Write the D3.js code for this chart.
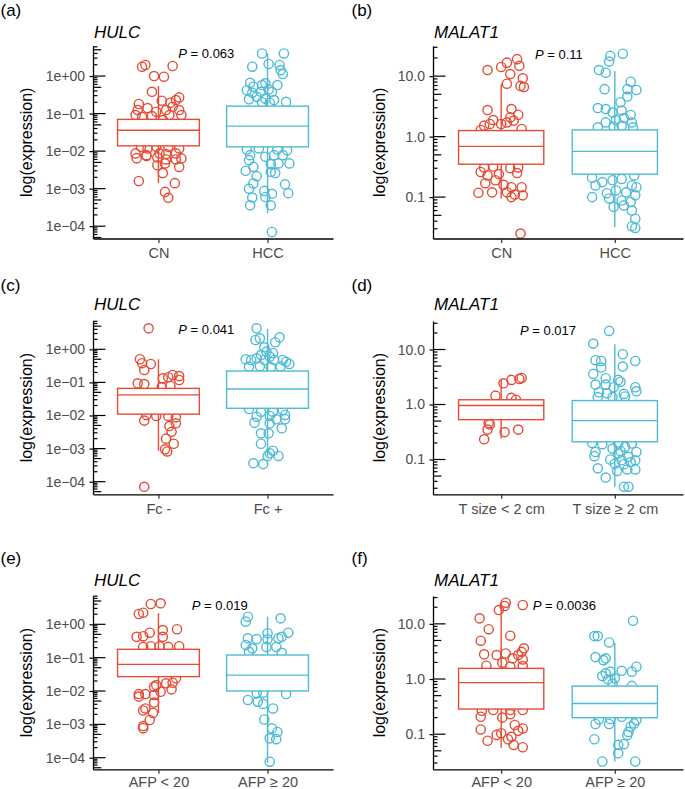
<!DOCTYPE html>
<html><head><meta charset="utf-8">
<script src="https://cdn.jsdelivr.net/npm/d3@7"></script>
<style>body{margin:0;background:#fff}svg{display:block;font-family:"Liberation Sans",Arial,sans-serif}</style>
</head><body><svg id="c" width="685" height="789"></svg>
<script>
// ---------------- DATA ----------------
const panelLetters = ["(a)","(b)","(c)","(d)","(e)","(f)"];
const genes = ["HULC","MALAT1","HULC","MALAT1","HULC","MALAT1"];
const categories = [["CN","HCC"],["CN","HCC"],["Fc -","Fc +"],["T size < 2 cm","T size ≥ 2 cm"],["AFP < 20","AFP ≥ 20"],["AFP < 20","AFP ≥ 20"]];
const pValues = ["0.063","0.11","0.041","0.017","0.019","0.0036"];
const hulcTicks = [1,0.1,0.01,0.001,0.0001];
const hulcTickLabels = ["1e+00","1e\u221201","1e\u221202","1e\u221203","1e\u221204"];
const malatTicks = [10,1,0.1];
const malatTickLabels = ["10.0","1.0","0.1"];
const yDomains = [[4.70e-5,6.31],[0.0207,31.5],[4.16e-5,7.16],[0.0233,33.0],[4.49e-5,7.06],[0.0231,32.0]];
// box stats: [lower whisker, Q1, median, Q3, upper whisker]
const boxA = [[0.00143,0.0138,0.036,0.070,0.54],[0.00022,0.013,0.0464,0.158,4.0]];
const boxB = [[0.095,0.35,0.69,1.26,7.4],[0.032,0.24,0.57,1.29,12.2]];
const boxC = [[0.00086,0.011,0.042,0.066,0.5],[0.00057,0.0165,0.063,0.22,4.1]];
const boxD = [[0.24,0.53,0.96,1.22,2.8],[0.032,0.21,0.51,1.18,12.5]];
const boxE = [[0.0022,0.027,0.063,0.178,2.14],[0.00007,0.01,0.030,0.12,1.69]];
const boxF = [[0.057,0.286,0.86,1.56,23.6],[0.032,0.199,0.36,0.746,4.55]];
// points: [jitter (fraction of category step), expression]
const ptsA1 = [[-0.15,1.77],[-0.12,1.97],[0.13,1.85],[-0.04,1.0],[0.05,0.96],[-0.06,0.38],[0.03,0.22],[0.11,0.194],[0.19,0.27],[0.16,0.229],[-0.18,0.18],[0.19,0.124],[-0.19,0.124],[-0.1,0.14],[-0.02,0.112],[0.07,0.124],[0.13,0.152],[-0.21,0.091],[-0.15,0.082],[-0.06,0.086],[0.1,0.091],[0.21,0.091],[0.04,0.067],
[-0.16,0.013],[-0.1,0.0118],[-0.02,0.013],[0.09,0.013],[0.19,0.0118],[-0.21,0.0087],[-0.11,0.0078],[0.01,0.0087],[0.07,0.0084],[0.16,0.0087],[-0.2,0.0065],[-0.11,0.0074],[-0.01,0.0068],[0.07,0.006],[0.16,0.006],[0.21,0.0064],[0.06,0.0047],[0.19,0.0038],[-0.01,0.0042],[0.04,0.0026],[-0.18,0.0016],[0.15,0.0014],[0.06,0.00082],[0.09,0.00057]];
const ptsA2 = [[-0.05,4.0],[0.15,4.0],[0.01,2.09],[-0.14,1.77],[0.11,1.97],[0.12,1.44],[0.14,1.13],[-0.16,0.66],[-0.19,0.42],[-0.13,0.52],[-0.05,0.575],[-0.02,0.64],[0.01,0.44],[0.09,0.575],[0.04,0.38],[-0.06,0.38],[-0.14,0.36],[-0.17,0.24],[-0.1,0.28],[-0.02,0.25],[0.06,0.229],[0.17,0.206],[-0.05,0.2],[0.02,0.195],
[-0.19,0.011],[-0.08,0.0118],[0.09,0.011],[0.18,0.0106],[-0.16,0.0078],[-0.02,0.0071],[0.06,0.0078],[0.14,0.0078],[-0.17,0.00575],[0.03,0.0045],[0.1,0.0047],[0.2,0.0047],[-0.13,0.0038],[-0.2,0.003],[0.03,0.0028],[0.07,0.0026],[-0.1,0.00215],[-0.13,0.00138],[0.16,0.0013],[-0.17,0.001],[-0.03,0.00087],[0.04,0.00073],[0.19,0.00076],[-0.14,0.00058],[-0.02,0.0006],[-0.16,0.00036],[0.03,0.00036],[0.04,0.00007]];
const ptsB1 = [[-0.12,12.6],[0,14.2],[0.05,16.7],[0.14,19.1],[0.16,14.8],[0.08,10.8],[0.05,7.5],[0.19,9.2],[0.17,6.9],[0.2,6.6],[-0.12,2.75],[-0.07,1.88],[0.09,2.86],[0.15,2.3],[0.08,2.08],[0.11,1.84],[-0.15,1.52],[-0.1,1.62],[0,1.62],[0.05,1.72],[0.18,1.34],[-0.18,1.29],
[-0.15,0.31],[-0.07,0.32],[0.08,0.30],[0.15,0.31],[-0.18,0.26],[-0.12,0.228],[-0.02,0.24],[0.14,0.25],[-0.05,0.19],[-0.14,0.17],[0.02,0.16],[0.09,0.146],[0.18,0.146],[-0.08,0.12],[-0.2,0.118],[0.05,0.12],[0.12,0.11],[0.19,0.107],[0.09,0.1],[0.17,0.025]];
const ptsB2 = [[-0.04,21.6],[-0.05,17.4],[0.07,23.5],[-0.14,12.6],[-0.08,11.4],[0.14,8.1],[-0.09,6.1],[0.19,5.9],[0.11,6.1],[0.11,4.6],[0.05,3.7],[-0.15,2.97],[-0.08,2.86],[-0.02,2.5],[0.06,2.7],[0.14,2.28],[0.15,1.72],[-0.08,1.72],[0.01,1.88],[0.08,2.03],[-0.15,1.42],[-0.01,1.46],[0.06,1.52],[0.16,1.42],
[-0.2,0.21],[-0.11,0.177],[-0.02,0.19],[0.06,0.2],[0.17,0.228],[-0.17,0.156],[0.15,0.156],[0.19,0.146],[-0.07,0.116],[0.01,0.129],[0.1,0.12],[0.18,0.107],[-0.2,0.1],[-0.05,0.095],[0.06,0.088],[0.14,0.083],[-0.01,0.069],[0.08,0.073],[0.15,0.06],[0.18,0.044],[0.15,0.033],[0.18,0.031]];
const ptsC1 = [[-0.09,4.3],[-0.17,0.5],[-0.15,0.38],[-0.13,0.237],[-0.07,0.36],[-0.19,0.094],[-0.13,0.089],[0.04,0.133],[0.09,0.143],[0.13,0.167],[0.19,0.155],[0.19,0.118],[0.11,0.078],[0.03,0.071],
[-0.11,0.0104],[-0.02,0.0097],[0.09,0.0097],[-0.13,0.007],[0.16,0.0088],[0.16,0.0058],[0.1,0.0048],[0.12,0.0032],[0.07,0.002],[0.14,0.0014],[0.06,0.00095],[0.08,0.00082],[-0.13,0.00007]];
const ptsC2 = [[-0.1,4.3],[-0.11,1.91],[-0.07,2.15],[0.11,2.3],[0.07,1.63],[-0.03,1.15],[-0.01,0.85],[0.05,0.76],[-0.06,0.67],[0.02,0.6],[-0.2,0.5],[-0.15,0.475],[-0.1,0.535],[-0.03,0.475],[0.06,0.475],[0.14,0.475],[0.17,0.42],[0.2,0.36],[-0.17,0.3],[-0.07,0.31],[0.03,0.285],[0.12,0.3],
[-0.17,0.0157],[-0.06,0.013],[0.05,0.013],[0.14,0.0147],[-0.1,0.0092],[0.02,0.0097],[0.16,0.0104],[0.08,0.0077],[0.16,0.0077],[-0.12,0.006],[0.02,0.0058],[0.13,0.0041],[0.01,0.0029],[-0.06,0.0029],[-0.06,0.0014],[0.05,0.00086],[0.02,0.00072],[0.1,0.0006],[0,0.0006],[-0.13,0.00036],[-0.04,0.00034]];
const ptsD1 = [[0.18,3.04],[0.16,2.92],[0.09,2.8],[0.02,2.43],[-0.05,1.45],[0.09,1.32],[0.13,1.22],[-0.11,0.46],[-0.1,0.435],[-0.12,0.35],[0.03,0.315],[0.15,0.35],[-0.15,0.233]];
const ptsD2 = [[-0.05,21.8],[-0.19,12.8],[0.07,8.2],[-0.17,6.4],[-0.12,6.2],[0.18,6.2],[-0.12,4.7],[0.07,4.9],[-0.19,3.6],[-0.08,3.0],[0.03,2.8],[0.05,2.6],[-0.17,2.3],[-0.08,2.3],[-0.01,2.06],[0.18,2.06],[0.19,1.74],[-0.14,1.67],[-0.07,1.6],[0.08,1.56],[0.09,1.4],[-0.15,1.36],[-0.02,1.36],
[-0.2,0.2],[-0.11,0.19],[0.03,0.195],[0.15,0.195],[0.09,0.17],[-0.02,0.158],[0.05,0.143],[-0.17,0.137],[0.19,0.137],[-0.18,0.115],[0.03,0.128],[0.12,0.112],[-0.04,0.1],[0.06,0.097],[0.18,0.097],[0,0.084],[0.14,0.09],[0.08,0.082],[-0.15,0.069],[0.02,0.062],[0.11,0.066],[0.18,0.066],[-0.08,0.047],[0.08,0.032],[0.12,0.032]];
const ptsE1 = [[-0.07,4.06],[0.02,4.26],[-0.18,2.04],[-0.14,2.23],[0.04,0.67],[0.17,0.71],[-0.2,0.42],[-0.14,0.44],[-0.08,0.56],[0.04,0.42],[-0.14,0.21],[-0.07,0.22],[0.01,0.22],[0.09,0.21],[0.19,0.22],
[0.16,0.024],[0.13,0.0177],[0.07,0.017],[-0.04,0.0135],[-0.02,0.015],[0.02,0.0095],[0.12,0.0112],[-0.18,0.0081],[-0.12,0.0081],[-0.04,0.0076],[-0.18,0.0068],[-0.04,0.0045],[-0.12,0.003],[-0.14,0.0026],[-0.05,0.0022],[-0.08,0.00135],[-0.14,0.00089],[-0.14,0.00077]];
const ptsE2 = [[-0.18,1.69],[-0.2,1.2],[0.12,1.51],[0,0.54],[0.19,0.56],[0.1,0.38],[0.13,0.42],[-0.18,0.38],[-0.1,0.36],[0,0.355],[-0.2,0.24],[-0.14,0.19],[-0.01,0.21],[0.08,0.21],[0.13,0.14],[-0.17,0.15],
[-0.04,0.0089],[-0.1,0.0085],[0.17,0.0081],[-0.18,0.0054],[-0.09,0.0048],[-0.04,0.0041],[0.05,0.003],[-0.03,0.0014],[0.04,0.00076],[0.09,0.00059],[0.02,0.00038],[0.08,0.00036],[0.02,0.000076]];
const ptsF1 = [[0.04,24.2],[0.03,21.1],[0.19,22],[-0.02,17.8],[-0.19,12.6],[-0.11,8.0],[0.08,6.1],[-0.18,4.95],[0.2,3.6],[0.18,3.1],[0.04,2.9],[-0.15,2.8],[-0.04,2.72],[0.15,2.72],[0.1,2.37],[0.19,2.27],[0.01,1.98],[-0.13,1.74],[0.08,1.67],[0.19,1.72],
[-0.17,0.266],[-0.07,0.274],[0.08,0.274],[0.19,0.274],[-0.18,0.207],[0.08,0.23],[0.01,0.2],[0.12,0.147],[-0.18,0.122],[0.19,0.127],[0,0.104],[0.15,0.115],[-0.04,0.097],[0.09,0.09],[0.06,0.081],[-0.12,0.076],[0.11,0.064],[0.19,0.058]];
const ptsF2 = [[0.16,11.4],[-0.18,6.0],[-0.15,6.0],[-0.05,4.6],[-0.17,2.5],[-0.08,2.37],[-0.1,2.2],[0.19,1.67],[0.06,1.41],[0.15,1.36],[-0.08,1.27],[-0.04,1.36],[-0.11,1.13],[-0.06,0.99],[0,1.03],[-0.02,0.83],[0.15,0.75],
[-0.14,0.186],[-0.04,0.188],[0.06,0.207],[0.19,0.18],[0.17,0.157],[-0.17,0.153],[-0.05,0.153],[0.14,0.137],[0.12,0.11],[0.11,0.097],[-0.18,0.081],[0.08,0.066],[0.03,0.064],[0.03,0.045],[-0.11,0.032],[0.18,0.032]];

const boxes = [boxA,boxB,boxC,boxD,boxE,boxF];
const points = [[ptsA1,ptsA2],[ptsB1,ptsB2],[ptsC1,ptsC2],[ptsD1,ptsD2],[ptsE1,ptsE2],[ptsF1,ptsF2]];

// ---------------- LAYOUT ----------------
const colors = ["#E64B35","#4DBBD5"];
const colX = [[93,333],[433,683]];
const rowY = [[46,238.5],[321,494.3],[596,769.3]];
const letterBase = [15.5,290.5,564];
const titleBase = [37.5,310,586];
const xLabelShift = [0,0,-2];
const yTitleX = [31.5,385];
const pPos = [[178.3,58],[535,59],[178.3,334],[520,335],[191.7,610],[532.7,609.5]];
const letterX = [0.5,351.5];

const svg = d3.select("#c");

for (let i=0;i<6;i++){
  const col=i%2,row=Math.floor(i/2);
  const [x0,x1]=colX[col],[y0,y1]=rowY[row];
  const cats=categories[i];
  const g=svg.append("g");
  const x=d3.scalePoint().domain(cats).range([x0,x1]).padding(0.6);
  const step=x.step();
  const y=d3.scaleLog().domain(yDomains[i]).range([y1,y0]);

  // jittered points
  points[i].forEach((arr,k)=>{
    g.append("g").selectAll("circle").data(arr).join("circle")
      .attr("cx",d=>x(cats[k])+d[0]*step).attr("cy",d=>y(d[1]))
      .attr("r",4.6).attr("fill","none").attr("stroke",colors[k]).attr("stroke-width",1.4);
  });

  // boxes
  boxes[i].forEach((b,k)=>{
    const cx=x(cats[k]), bw=step*0.75, c=colors[k];
    const bg=g.append("g").attr("stroke",c).attr("stroke-width",1.4);
    bg.append("line").attr("x1",cx).attr("x2",cx).attr("y1",y(b[0])).attr("y2",y(b[1]));
    bg.append("line").attr("x1",cx).attr("x2",cx).attr("y1",y(b[3])).attr("y2",y(b[4]));
    bg.append("rect").attr("x",cx-bw/2).attr("y",y(b[3])).attr("width",bw).attr("height",y(b[1])-y(b[3])).attr("fill","#fff");
    bg.append("line").attr("x1",cx-bw/2).attr("x2",cx+bw/2).attr("y1",y(b[2])).attr("y2",y(b[2]));
  });

  // log ticks inside (annotation_logticks style)
  const lo=Math.floor(Math.log10(yDomains[i][0])), hi=Math.ceil(Math.log10(yDomains[i][1]));
  const minor=[];
  for(let e=lo;e<=hi;e++) for(let m=1;m<=9;m++){const v=m*Math.pow(10,e); if(v>=yDomains[i][0]&&v<=yDomains[i][1]) minor.push([v,m]);}
  g.append("g").selectAll("line").data(minor).join("line")
    .attr("x1",x0).attr("x2",d=>x0+(d[1]===1?12.5:d[1]===5?8.3:4.5))
    .attr("y1",d=>y(d[0])).attr("y2",d=>y(d[0])).attr("stroke","#000").attr("stroke-width",1.2);

  // y axis
  const isH = col===0;
  const ya=d3.axisLeft(y).tickValues(isH?hulcTicks:malatTicks)
    .tickFormat((d,j)=>(isH?hulcTickLabels:malatTickLabels)[j]).tickSize(3.5).tickSizeOuter(0).tickPadding(4.5);
  const yg=g.append("g").attr("transform",`translate(${x0},0)`).call(ya);
  yg.select(".domain").attr("stroke","#000").attr("stroke-width",1.3);
  yg.selectAll(".tick line").attr("stroke","#000").attr("stroke-width",1.2);
  yg.selectAll(".tick text").attr("fill","#4D4D4D").style("font-size","14px").style("font-family","Liberation Sans, Arial, sans-serif");

  // x axis
  const xa=d3.axisBottom(x).tickSize(4.5).tickSizeOuter(0).tickPadding(4.7+xLabelShift[row]);
  const xg=g.append("g").attr("transform",`translate(0,${y1})`).call(xa);
  xg.select(".domain").attr("stroke","#000").attr("stroke-width",1.3);
  xg.selectAll(".tick line").attr("stroke","#333").attr("stroke-width",1.2);
  xg.selectAll(".tick text").attr("fill","#4D4D4D").style("font-size","14.5px").style("font-family","Liberation Sans, Arial, sans-serif");

  // y title
  g.append("text").attr("transform",`translate(${yTitleX[col]},${(y0+y1)/2}) rotate(-90)`)
    .attr("text-anchor","middle").style("font-size","16px").attr("fill","#000").text("log(expression)");

  // gene title
  g.append("text").attr("x",x0+1).attr("y",titleBase[row]).style("font-size","17px").style("font-style","italic").text(genes[i]);
  // panel letter
  svg.append("text").attr("x",letterX[col]).attr("y",letterBase[row]).style("font-size","17px").text(panelLetters[i]);
  // p value
  const pt=g.append("text").attr("x",pPos[i][0]).attr("y",pPos[i][1]).style("font-size","13px").attr("fill","#000");
  pt.append("tspan").style("font-style","italic").text("P");
  pt.append("tspan").text(" = "+pValues[i]);
}
</script></body></html>
